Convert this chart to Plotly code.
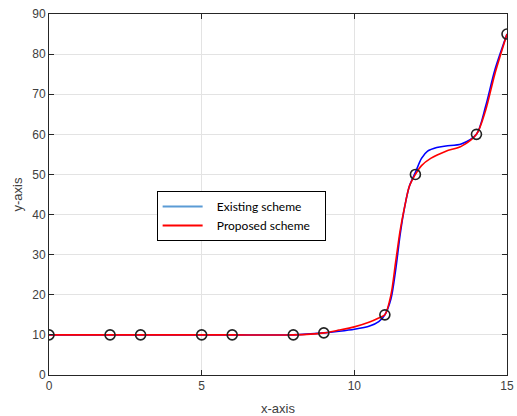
import plotly.graph_objects as go

# Data points (markers)
pts_x = [0, 2, 3, 5, 6, 8, 9, 11, 12, 14, 15]
pts_y = [10, 10, 10, 10, 10, 10, 10.5, 15, 50, 60, 85]

# Existing scheme curve
exist_x = [0, 2, 3, 5, 6, 8, 9, 9.5, 10, 10.5, 10.8, 11, 11.2, 11.35, 11.5, 11.65, 11.8, 12,
           12.2, 12.4, 12.7, 13, 13.5, 14, 14.3, 14.6, 15]
exist_y = [10, 10, 10, 10, 10, 10, 10.5, 10.9, 11.4, 12.2, 13.3, 15, 19, 26, 35, 42, 47, 50.5,
           54, 55.8, 56.7, 57.1, 57.6, 60, 67, 76, 85]

# Proposed scheme curve
prop_x = [0, 2, 3, 5, 6, 8, 9, 9.5, 10, 10.5, 10.8, 11, 11.2, 11.35, 11.5, 11.65, 11.8, 12,
          12.2, 12.5, 13, 13.5, 14, 14.3, 14.6, 15]
prop_y = [10, 10, 10, 10, 10, 10, 10.5, 11.2, 12, 13.2, 14.2, 15, 20, 28, 36, 42, 47, 50,
          52.2, 54, 55.8, 57, 60, 66, 75, 85]

series_names = ["Existing scheme", "Proposed scheme"]
pad = "\u00a0\u00a0\u00a0"

fig = go.Figure()
fig.add_trace(go.Scatter(x=exist_x, y=exist_y, mode="lines", line=dict(color="#0000ff", width=1.6, shape="spline", smoothing=0.8),
                         showlegend=False))
fig.add_trace(go.Scatter(x=prop_x, y=prop_y, mode="lines", line=dict(color="#ff0000", width=1.6, shape="spline", smoothing=0.8),
                         showlegend=False))
fig.add_trace(go.Scatter(x=pts_x, y=pts_y, mode="markers",
                         marker=dict(symbol="circle-open", size=10, color="#222222", line=dict(width=1.6)),
                         showlegend=False))
# legend entries
fig.add_trace(go.Scatter(x=[None], y=[None], mode="lines", name=pad + series_names[0] + pad,
                         line=dict(color="#5b9bd5", width=2)))
fig.add_trace(go.Scatter(x=[None], y=[None], mode="lines", name=pad + series_names[1] + pad,
                         line=dict(color="#ff0000", width=2)))

axis_common = dict(showgrid=True, gridcolor="#e3e3e3", gridwidth=1, zeroline=False,
                   showline=True, linecolor="#262626", linewidth=1, mirror="ticks",
                   ticks="inside", ticklen=5, tickcolor="#262626", automargin=False,
                   tickfont=dict(family="Liberation Sans, Arial", size=12, color="#404040"))

fig.update_xaxes(range=[0, 15], dtick=5, title=dict(text="x-axis", standoff=18,
                 font=dict(family="Liberation Sans, Arial", size=13, color="#404040")), **axis_common)
fig.update_yaxes(range=[0, 90], dtick=10, title=dict(text="y-axis", standoff=6,
                 font=dict(family="Liberation Sans, Arial", size=13, color="#404040")), **axis_common)

fig.update_layout(
    width=517, height=416,
    margin=dict(l=49, r=10, t=14, b=41),
    plot_bgcolor="white", paper_bgcolor="white",
    legend=dict(x=0.235, y=0.51, xanchor="left", yanchor="top",
                bordercolor="#000000", borderwidth=1, bgcolor="white",
                font=dict(family="Lato, Open Sans", size=12, color="#000000"),
                tracegroupgap=0, itemwidth=40),
)

fig.write_html("out.html")
